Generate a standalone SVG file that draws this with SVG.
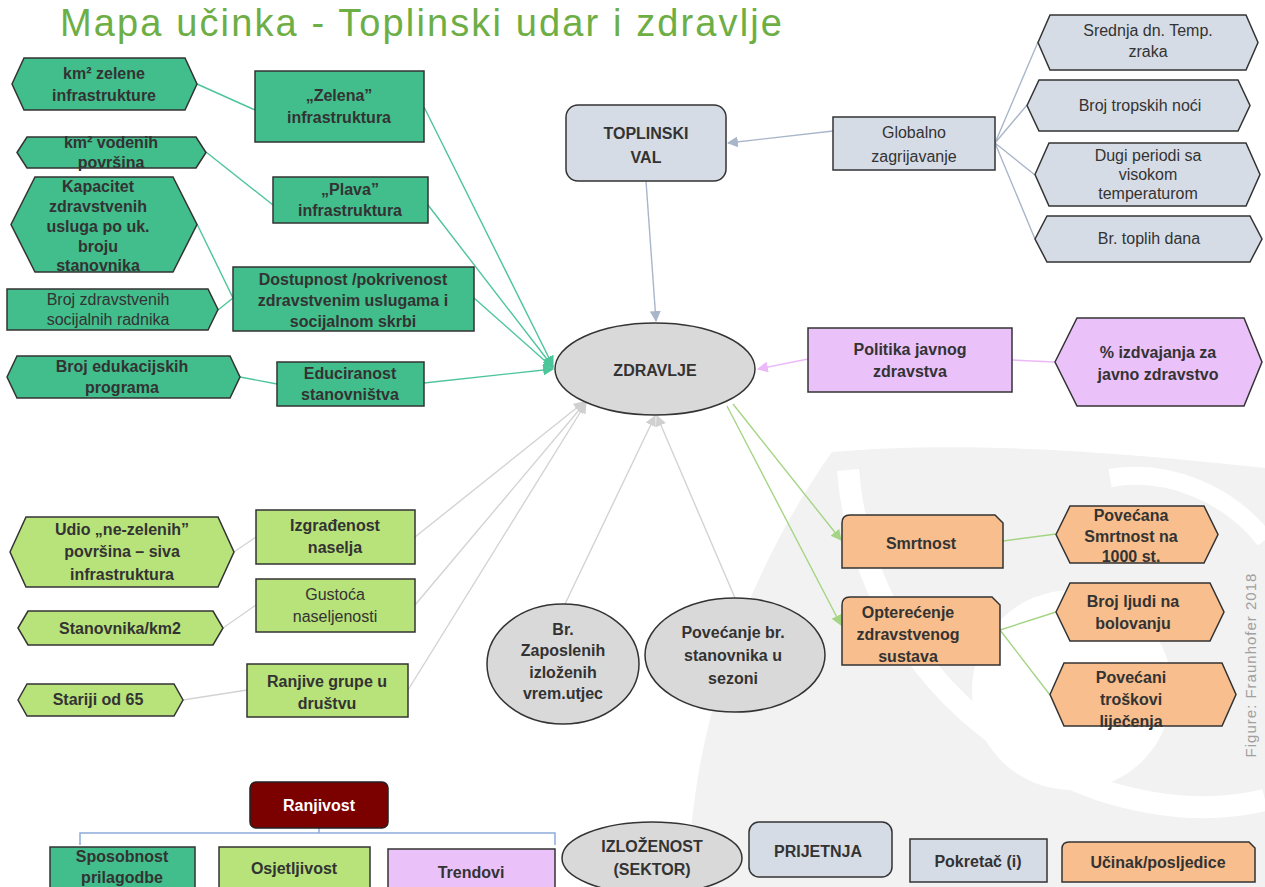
<svg xmlns="http://www.w3.org/2000/svg" width="1265" height="887" viewBox="0 0 1265 887">
  <defs>
    <style>
      .t { font-family: "Liberation Sans", Arial, sans-serif; fill: #333; text-anchor: middle; font-size: 16px; }
      .b { font-weight: bold; }
      .teal { fill: #41BE8B; stroke: #333; stroke-width: 1.5; }
      .lgreen { fill: #B8E27A; stroke: #333; stroke-width: 1.5; }
      .bluegrey { fill: #D6DCE5; stroke: #333; stroke-width: 1.5; }
      .pink { fill: #EBC1F9; stroke: #333; stroke-width: 1.5; }
      .orange { fill: #F8BE8D; stroke: #333; stroke-width: 1.5; }
      .grey { fill: #D9D9D9; stroke: #333; stroke-width: 1.5; }
      .c { fill: none; stroke-width: 1.4; }
      .c-teal { stroke: #4CC59A; }
      .c-bg { stroke: #A9B6C9; }
      .c-pink { stroke: #EDB8F7; }
      .c-grey { stroke: #D3D3D3; }
      .c-green { stroke: #A5D584; }
      .wm { fill: #F2F2F2; }
    </style>
    <marker id="aTeal" viewBox="0 0 10 10" refX="9" refY="5" markerWidth="11" markerHeight="11" markerUnits="userSpaceOnUse" orient="auto">
      <path d="M0,0 L10,5 L0,10 Z" fill="#4CC59A"/>
    </marker>
    <marker id="aBg" viewBox="0 0 10 10" refX="9" refY="5" markerWidth="11" markerHeight="11" markerUnits="userSpaceOnUse" orient="auto">
      <path d="M0,0 L10,5 L0,10 Z" fill="#A9B6C9"/>
    </marker>
    <marker id="aPink" viewBox="0 0 10 10" refX="9" refY="5" markerWidth="11" markerHeight="11" markerUnits="userSpaceOnUse" orient="auto">
      <path d="M0,0 L10,5 L0,10 Z" fill="#EDB8F7"/>
    </marker>
    <marker id="aGrey" viewBox="0 0 10 10" refX="9" refY="5" markerWidth="11" markerHeight="11" markerUnits="userSpaceOnUse" orient="auto">
      <path d="M0,0 L10,5 L0,10 Z" fill="#D0D0D0"/>
    </marker>
    <marker id="aGreen" viewBox="0 0 10 10" refX="9" refY="5" markerWidth="11" markerHeight="11" markerUnits="userSpaceOnUse" orient="auto">
      <path d="M0,0 L10,5 L0,10 Z" fill="#A5D584"/>
    </marker>
  </defs>

  <rect width="1265" height="887" fill="#FFFFFF"/>

  <!-- background watermark -->
  <g id="watermark">
    <path class="wm" d="M688,887 C690,730 745,575 832,452 C960,440 1120,452 1265,468 L1265,887 Z"/>
    <path d="M848,470 C860,620 960,740 1100,790 C1170,812 1225,810 1265,800" fill="none" stroke="#FFFFFF" stroke-width="22"/>
    <circle cx="1072" cy="690" r="100" fill="#FFFFFF"/>
    <path d="M1110,478 C1170,468 1230,495 1265,540" fill="none" stroke="#FFFFFF" stroke-width="18"/>
  </g>

  <text x="60" y="36" font-family="Liberation Sans, Arial, sans-serif" font-size="38" fill="#6DAE45" textLength="722">Mapa  učinka - Toplinski udar i zdravlje</text>

  <!-- connectors -->
  <g id="connectors">
    <path class="c c-teal" d="M197,84 L255,110"/>
    <path class="c c-teal" d="M424,107 L553,366" marker-end="url(#aTeal)"/>
    <path class="c c-teal" d="M206,152 L273,205"/>
    <path class="c c-teal" d="M428,205 L553,367" marker-end="url(#aTeal)"/>
    <path class="c c-teal" d="M197,224 L233,298"/>
    <path class="c c-teal" d="M218,310 L233,298"/>
    <path class="c c-teal" d="M474,298 L553,368" marker-end="url(#aTeal)"/>
    <path class="c c-teal" d="M240,377 L277,384"/>
    <path class="c c-teal" d="M424,383 L553,369" marker-end="url(#aTeal)"/>

    <path class="c c-bg" d="M833,131 L728,143" marker-end="url(#aBg)"/>
    <path class="c c-bg" d="M646,181 L656,321" marker-end="url(#aBg)"/>
    <path class="c c-bg" d="M995,143 L1038,42 M995,143 L1027,105 M995,143 L1035,175 M995,143 L1035,239"/>

    <path class="c c-pink" d="M1055,362 L1012,360"/>
    <path class="c c-pink" d="M808,359 L758,369" marker-end="url(#aPink)"/>

    <path class="c c-grey" d="M234,552 L256,537"/>
    <path class="c c-grey" d="M415,537 L584,402" marker-end="url(#aGrey)"/>
    <path class="c c-grey" d="M223,628 L256,605"/>
    <path class="c c-grey" d="M415,605 L585,403" marker-end="url(#aGrey)"/>
    <path class="c c-grey" d="M183,700 L247,690"/>
    <path class="c c-grey" d="M408,690 L586,403" marker-end="url(#aGrey)"/>
    <path class="c c-grey" d="M565,604 L655,416" marker-end="url(#aGrey)"/>
    <path class="c c-grey" d="M735,598 L657,416" marker-end="url(#aGrey)"/>

    <path class="c c-green" d="M733,404 L841,540" marker-end="url(#aGreen)"/>
    <path class="c c-green" d="M727,406 L841,625" marker-end="url(#aGreen)"/>
    <path class="c c-green" d="M1003,541 L1056,534"/>
    <path class="c c-green" d="M1000,630 L1056,612"/>
    <path class="c c-green" d="M1000,630 L1050,695"/>

    <!-- legend bracket -->
    <path d="M80,845 V833 H555 V845 M319,828 V833" fill="none" stroke="#8FAADC" stroke-width="1.5"/>
  </g>

  <!-- blue-green cluster -->
  <g id="km2-zelene">
    <polygon class="teal" points="12,84 24,58 185,58 197,84 185,110 24,110"/>
    <text class="t b"><tspan x="104" y="79">km² zelene</tspan><tspan x="104" y="101">infrastrukture</tspan></text>
  </g>
  <g id="zelena-infra">
    <rect class="teal" x="255" y="71" width="169" height="71"/>
    <text class="t b"><tspan x="339" y="101">„Zelena”</tspan><tspan x="339" y="123">infrastruktura</tspan></text>
  </g>
  <g id="km2-vodenih">
    <polygon class="teal" points="17,152.5 27,137 196,137 206,152.5 196,168 27,168"/>
    <text class="t b"><tspan x="111" y="148">km² vodenih</tspan><tspan x="111" y="168">površina</tspan></text>
  </g>
  <g id="plava-infra">
    <rect class="teal" x="273" y="177" width="155" height="46"/>
    <text class="t b"><tspan x="350" y="195">„Plava”</tspan><tspan x="350" y="216">infrastruktura</tspan></text>
  </g>
  <g id="kapacitet">
    <polygon class="teal" points="11,224.5 35,177 173,177 197,224.5 173,272 35,272"/>
    <text class="t b"><tspan x="98" y="192">Kapacitet</tspan><tspan x="98" y="212">zdravstvenih</tspan><tspan x="98" y="232">usluga po uk.</tspan><tspan x="98" y="252">broju</tspan><tspan x="98" y="271">stanovnika</tspan></text>
  </g>
  <g id="broj-radnika">
    <polygon class="teal" points="7,289 208,289 218,309.5 208,330 7,330"/>
    <text class="t" font-size="15"><tspan x="108" y="305">Broj zdravstvenih</tspan><tspan x="108" y="325">socijalnih radnika</tspan></text>
  </g>
  <g id="dostupnost">
    <rect class="teal" x="233" y="267" width="241" height="64"/>
    <text class="t b"><tspan x="353" y="285">Dostupnost /pokrivenost</tspan><tspan x="353" y="306">zdravstvenim uslugama  i</tspan><tspan x="353" y="327">socijalnom skrbi</tspan></text>
  </g>
  <g id="broj-edukacijskih">
    <polygon class="teal" points="7,377 17,356 230,356 240,377 230,398 17,398"/>
    <text class="t b"><tspan x="122" y="372">Broj edukacijskih</tspan><tspan x="122" y="393">programa</tspan></text>
  </g>
  <g id="educiranost">
    <rect class="teal" x="277" y="362" width="147" height="44"/>
    <text class="t b"><tspan x="350" y="379">Educiranost</tspan><tspan x="350" y="400">stanovništva</tspan></text>
  </g>

  <!-- central node -->
  <g id="zdravlje">
    <ellipse class="grey" cx="655" cy="369" rx="100" ry="46"/>
    <text class="t b" x="655" y="376" font-size="20">ZDRAVLJE</text>
  </g>

  <!-- hazard cluster -->
  <g id="toplinski-val">
    <rect class="bluegrey" x="566" y="105" width="160" height="76" rx="12"/>
    <text class="t b" font-size="18"><tspan x="646" y="139">TOPLINSKI</tspan><tspan x="646" y="163">VAL</tspan></text>
  </g>
  <g id="globalno">
    <rect class="bluegrey" x="833" y="117" width="162" height="53"/>
    <text class="t" font-size="19" fill="#222"><tspan x="914" y="138">Globalno</tspan><tspan x="914" y="162">zagrijavanje</tspan></text>
  </g>
  <g id="srednja-temp">
    <polygon class="bluegrey" points="1038,42.5 1050,15 1246,15 1258,42.5 1246,70 1050,70"/>
    <text class="t" font-size="15"><tspan x="1148" y="36">Srednja dn. Temp.</tspan><tspan x="1148" y="57">zraka</tspan></text>
  </g>
  <g id="tropske-noci">
    <polygon class="bluegrey" points="1027,105.5 1039,80 1238,80 1250,105.5 1238,131 1039,131"/>
    <text class="t" font-size="15" x="1140" y="111">Broj tropskih noći</text>
  </g>
  <g id="dugi-periodi">
    <polygon class="bluegrey" points="1035,174.5 1049,143 1246,143 1260,174.5 1246,206 1049,206"/>
    <text class="t" font-size="15"><tspan x="1148" y="161">Dugi periodi sa</tspan><tspan x="1148" y="180">visokom</tspan><tspan x="1148" y="199">temperaturom</tspan></text>
  </g>
  <g id="topli-dani">
    <polygon class="bluegrey" points="1035,239 1047,216 1250,216 1262,239 1250,262 1047,262"/>
    <text class="t" font-size="15" x="1149" y="244">Br. toplih dana</text>
  </g>

  <!-- policy cluster -->
  <g id="politika">
    <rect class="pink" x="808" y="328" width="204" height="64"/>
    <text class="t b"><tspan x="910" y="355">Politika javnog</tspan><tspan x="910" y="377">zdravstva</tspan></text>
  </g>
  <g id="izdvajanja">
    <polygon class="pink" points="1055,362 1077,318 1244,318 1262,362 1244,406 1077,406"/>
    <text class="t b"><tspan x="1158" y="358">%  izdvajanja za</tspan><tspan x="1158" y="380">javno zdravstvo</tspan></text>
  </g>

  <!-- settlement cluster -->
  <g id="udio">
    <polygon class="lgreen" points="10,552 26,517 218,517 234,552 218,587 26,587"/>
    <text class="t b"><tspan x="122" y="535">Udio „ne-zelenih”</tspan><tspan x="122" y="557">površina – siva</tspan><tspan x="122" y="580">infrastruktura</tspan></text>
  </g>
  <g id="izgradenost">
    <rect class="lgreen" x="256" y="510" width="159" height="54"/>
    <text class="t b"><tspan x="335" y="531">Izgrađenost</tspan><tspan x="335" y="553">naselja</tspan></text>
  </g>
  <g id="stanovnika-km2">
    <polygon class="lgreen" points="18,628 28,611 213,611 223,628 213,645 28,645"/>
    <text class="t b" x="120" y="634">Stanovnika/km2</text>
  </g>
  <g id="gustoca">
    <rect class="lgreen" x="256" y="579" width="159" height="53"/>
    <text class="t" font-size="15"><tspan x="335" y="600">Gustoća</tspan><tspan x="335" y="622">naseljenosti</tspan></text>
  </g>
  <g id="stariji">
    <polygon class="lgreen" points="18,700 27,684 174,684 183,700 174,716 27,716"/>
    <text class="t b" x="98" y="705">Stariji od 65</text>
  </g>
  <g id="ranjive-grupe">
    <rect class="lgreen" x="247" y="664" width="161" height="53"/>
    <text class="t b"><tspan x="327" y="687">Ranjive grupe u</tspan><tspan x="327" y="709">društvu</tspan></text>
  </g>

  <!-- exposure nodes -->
  <g id="zaposleni">
    <ellipse class="grey" cx="563" cy="664" rx="76" ry="60"/>
    <text class="t b"><tspan x="563" y="635">Br.</tspan><tspan x="563" y="656">Zaposlenih</tspan><tspan x="563" y="678">izloženih</tspan><tspan x="563" y="699">vrem.utjec</tspan></text>
  </g>
  <g id="povecanje-stanovnika">
    <ellipse class="grey" cx="735" cy="655" rx="90" ry="57"/>
    <text class="t b"><tspan x="733" y="638">Povećanje br.</tspan><tspan x="733" y="661">stanovnika u</tspan><tspan x="733" y="684">sezoni</tspan></text>
  </g>

  <!-- impact cluster -->
  <g id="smrtnost">
    <path class="orange" d="M842,568 V523 Q842,515 850,515 H995 L1003,523 V568 Z"/>
    <text class="t b" x="921" y="549">Smrtnost</text>
  </g>
  <g id="opterecenje">
    <path class="orange" d="M842,665 V605 Q842,597 850,597 H992 L1000,605 V665 Z"/>
    <text class="t b"><tspan x="908" y="618">Opterećenje</tspan><tspan x="908" y="640">zdravstvenog</tspan><tspan x="908" y="662">sustava</tspan></text>
  </g>
  <g id="povecana-smrtnost">
    <polygon class="orange" points="1056,534.5 1070,506 1204,506 1218,534.5 1204,563 1070,563"/>
    <text class="t b" font-size="15"><tspan x="1131" y="521">Povećana</tspan><tspan x="1131" y="542">Smrtnost na</tspan><tspan x="1131" y="562">1000 st.</tspan></text>
  </g>
  <g id="bolovanje">
    <polygon class="orange" points="1056,612 1070,583 1210,583 1224,612 1210,641 1070,641"/>
    <text class="t b"><tspan x="1133" y="607">Broj ljudi na</tspan><tspan x="1133" y="629">bolovanju</tspan></text>
  </g>
  <g id="troskovi">
    <polygon class="orange" points="1050,694.5 1064,663 1222,663 1236,694.5 1222,726 1064,726"/>
    <text class="t b"><tspan x="1131" y="683">Povećani</tspan><tspan x="1131" y="705">troškovi</tspan><tspan x="1131" y="727">liječenja</tspan></text>
  </g>

  <!-- legend -->
  <g id="legend-ranjivost">
    <rect x="250" y="782" width="138" height="46" rx="6" fill="#7B0000" stroke="#222" stroke-width="1.5"/>
    <text class="t b" x="319" y="811" style="fill:#FFFFFF">Ranjivost</text>
  </g>
  <g id="legend-sposobnost">
    <rect class="teal" x="50" y="847" width="145" height="45"/>
    <text class="t b"><tspan x="122" y="862">Sposobnost</tspan><tspan x="122" y="883">prilagodbe</tspan></text>
  </g>
  <g id="legend-osjetljivost">
    <rect class="lgreen" x="219" y="847" width="151" height="45"/>
    <text class="t b" x="294" y="874">Osjetljivost</text>
  </g>
  <g id="legend-trendovi">
    <rect class="pink" x="388" y="849" width="167" height="45"/>
    <text class="t b" x="471" y="878" font-size="19">Trendovi</text>
  </g>
  <g id="legend-izlozenost">
    <ellipse class="grey" cx="652" cy="858" rx="90" ry="36"/>
    <text class="t b" font-size="15"><tspan x="652" y="852">IZLOŽENOST</tspan><tspan x="652" y="875">(SEKTOR)</tspan></text>
  </g>
  <g id="legend-prijetnja">
    <rect class="bluegrey" x="749" y="822" width="143" height="55" rx="10"/>
    <text class="t b" x="818" y="857">PRIJETNJA</text>
  </g>
  <g id="legend-pokretac">
    <rect class="bluegrey" x="910" y="839" width="137" height="43"/>
    <text class="t b" x="978" y="867" font-size="19">Pokretač (i)</text>
  </g>
  <g id="legend-ucinak">
    <path class="orange" d="M1062,882 V849 Q1062,842 1069,842 H1249 L1255,848 V882 Z"/>
    <text class="t b" x="1158" y="868">Učinak/posljedice</text>
  </g>

  <text x="1256" y="665" transform="rotate(-90 1256 665)" font-family="Liberation Sans, Arial, sans-serif" font-size="15" fill="#A0A0A0" text-anchor="middle" letter-spacing="1">Figure: Fraunhofer 2018</text>
</svg>
